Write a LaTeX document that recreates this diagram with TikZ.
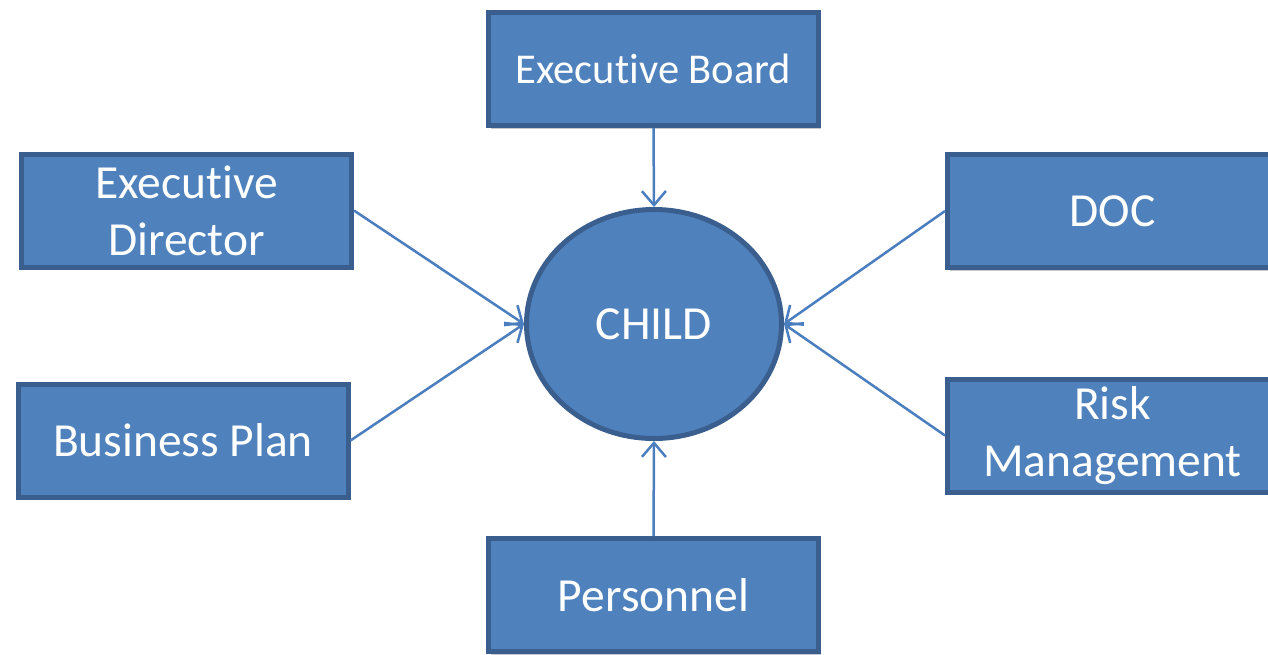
\documentclass[tikz,border=0pt]{standalone}
\usepackage{fontspec}
\setmainfont{Carlito}[Ligatures={NoCommon}]
\usetikzlibrary{arrows.meta,shadows,shapes.geometric}
\definecolor{boxfill}{HTML}{4F81BD}
\definecolor{boxline}{HTML}{3A5F8E}
\definecolor{arrowc}{HTML}{4A7EBF}
\begin{document}
\begin{tikzpicture}[x=1pt,y=-1pt,
  box/.style={rectangle, draw=boxline, fill=boxfill, line width=5pt,
    minimum width=330pt, minimum height=113pt, inner sep=0pt,
    text=white, align=center, font=\fontsize{47.5}{57}\selectfont,
    drop shadow={shadow xshift=2pt, shadow yshift=-3pt, opacity=0.35, fill=black!60}},
  hub/.style={ellipse, draw=boxline, fill=boxfill, line width=5pt,
    minimum width=255pt, minimum height=229pt, inner sep=0pt,
    text=white, font=\fontsize{47.5}{57}\selectfont},
  conn/.style={draw=arrowc, line width=2.5pt,
    -{Straight Barb[length=14pt,width=24pt,line width=2.5pt]}}
]
\useasboundingbox (0,0) rectangle (1268,654);
\clip (0,0) rectangle (1268,654);
\node[box, font=\fontsize{42.5}{57}\selectfont] (eb) at (653.5,69) {Executive Board};
\node[box] (ed) at (186.5,210.5) {Executive\\Director};
\node[box] (bp) at (183,440.5) {Business Plan};
\node[box] (doc) at (1112.5,211) {DOC};
\node[box] (rm) at (1112.5,435.5) {Risk\\Management};
\node[box] (pe) at (653.5,595) {Personnel};
\node[hub] (child) at (654,324) {CHILD};
\draw[conn] (eb.south) -- (child.north);
\draw[conn] (pe.north) -- (child.south);
\draw[conn] (ed.east) -- (child.west);
\draw[conn] (bp.east) -- (child.west);
\draw[conn] (doc.west) -- (child.east);
\draw[conn] (rm.west) -- (child.east);
\end{tikzpicture}
\end{document}
